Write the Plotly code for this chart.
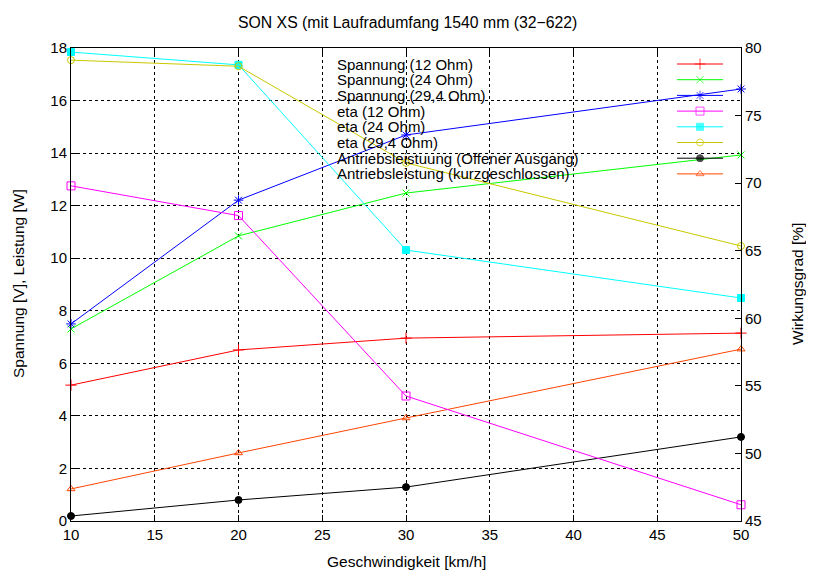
import plotly.graph_objects as go

speed = [10, 20, 30, 50]

spannung_12 = [5.17, 6.51, 6.96, 7.15]
spannung_24 = [7.31, 10.85, 12.48, 13.93]
spannung_294 = [7.50, 12.21, 14.69, 16.44]
eta_12 = [69.8, 67.6, 54.25, 46.2]
eta_24 = [79.7, 78.75, 65.05, 61.5]
eta_294 = [79.1, 78.65, 71.5, 65.35]
leistung_offen = [0.19, 0.80, 1.29, 3.20]
leistung_kurz = [1.22, 2.59, 3.92, 6.54]

names = ["Spannung (12 Ohm)", "Spannung (24 Ohm)", "Spannung (29,4 Ohm)",
         "eta (12 Ohm)", "eta (24 Ohm)", "eta (29,4 Ohm)",
         "Antriebsleistuung (Offener Ausgang)", "Antriebsleistung (kurzgeschlossen)"]
colors = ["#ff0000", "#00ff00", "#0000ff", "#ff00ff", "#00ffff", "#c8c800", "#000000", "#ff4500"]
symbols = ["cross-thin-open", "x-thin-open", "asterisk-open", "square-open", "square",
           "circle-open", "circle", "triangle-up-open"]
sizes = [8, 7, 8, 8, 7, 7, 7, 7]
series = [spannung_12, spannung_24, spannung_294, eta_12, eta_24, eta_294, leistung_offen, leistung_kurz]
on_right = [False, False, False, True, True, True, False, False]

FONT = "Liberation Sans, Arial, sans-serif"
TXT = 15.5
TICK = 15

# plot area in page pixels (the page body adds an 8px margin)
OFF = 8
L, R, T, B = 71, 741, 48, 521
W, H = 814 - OFF, 570 - OFF

fig = go.Figure()
for n, c, s, sz, v, r in zip(names, colors, symbols, sizes, series, on_right):
    fig.add_trace(go.Scatter(
        x=speed, y=v, name=n, mode="lines+markers",
        line=dict(color=c, width=1),
        marker=dict(symbol=s, size=sz, color=c, line=dict(color=c, width=1)),
        yaxis="y2" if r else "y", showlegend=False, cliponaxis=False))

# gnuplot-style key (text left, sample right), in pixel-like overlay coords
key_y0, key_dy = 64, 15.7
for i, (n, c, s, sz) in enumerate(zip(names, colors, symbols, sizes)):
    yy = key_y0 + i * key_dy
    fig.add_trace(go.Scatter(
        x=[677, 700, 723], y=[yy, yy, yy], mode="lines+markers",
        line=dict(color=c, width=1),
        marker=dict(symbol=s, size=[0, sz, 0], color=c, line=dict(color=c, width=1)),
        xaxis="x3", yaxis="y3", showlegend=False, hoverinfo="skip"))
    fig.add_annotation(x=336, y=yy, xref="x3", yref="y3", text=n, showarrow=False,
                       xanchor="left", yanchor="middle", borderpad=0,
                       font=dict(family=FONT, size=15, color="black"))

pw, ph = R - L, B - T
fig.add_annotation(x=(407 - L) / pw, y=(B - 22) / ph, xref="paper", yref="paper",
                   text="SON XS (mit Laufradumfang 1540 mm (32\u2212622)", showarrow=False,
                   xanchor="center", yanchor="middle",
                   font=dict(family=FONT, size=15.8, color="black"))
fig.add_annotation(x=(406 - L) / pw, y=(B - 561) / ph, xref="paper", yref="paper",
                   text="Geschwindigkeit [km/h]", showarrow=False,
                   xanchor="center", yanchor="middle",
                   font=dict(family=FONT, size=TXT, color="black"))
fig.add_annotation(x=(18 - L) / pw, y=(B - 284) / ph, xref="paper", yref="paper",
                   text="Spannung [V], Leistung [W]", showarrow=False, textangle=-90,
                   xanchor="center", yanchor="middle",
                   font=dict(family=FONT, size=TXT, color="black"))
fig.add_annotation(x=(797 - L) / pw, y=(B - 284) / ph, xref="paper", yref="paper",
                   text="Wirkungsgrad [%]", showarrow=False, textangle=-90,
                   xanchor="center", yanchor="middle",
                   font=dict(family=FONT, size=TXT, color="black"))

axis_common = dict(showline=True, linecolor="black", linewidth=1, ticks="inside",
                   ticklen=6, tickcolor="black", zeroline=False, automargin=False,
                   tickfont=dict(family=FONT, size=TICK, color="black"))

fig.update_layout(
    width=W, height=H,
    margin=dict(l=L - OFF, r=814 - R, t=T - OFF, b=570 - B, autoexpand=False),
    paper_bgcolor="white", plot_bgcolor="white",
    xaxis=dict(range=[10, 50], dtick=5, mirror="ticks", showgrid=True, gridcolor="black",
               griddash="dot", gridwidth=1, **axis_common),
    yaxis=dict(range=[0, 18], dtick=2, showgrid=True, gridcolor="black",
               griddash="dot", gridwidth=1, **axis_common),
    yaxis2=dict(range=[45, 80], dtick=5, overlaying="y", side="right", showgrid=False,
                **axis_common),
    xaxis3=dict(range=[L, R], overlaying="x", visible=False),
    yaxis3=dict(range=[B, T], overlaying="y", visible=False),
)

fig.write_html("out.html")
